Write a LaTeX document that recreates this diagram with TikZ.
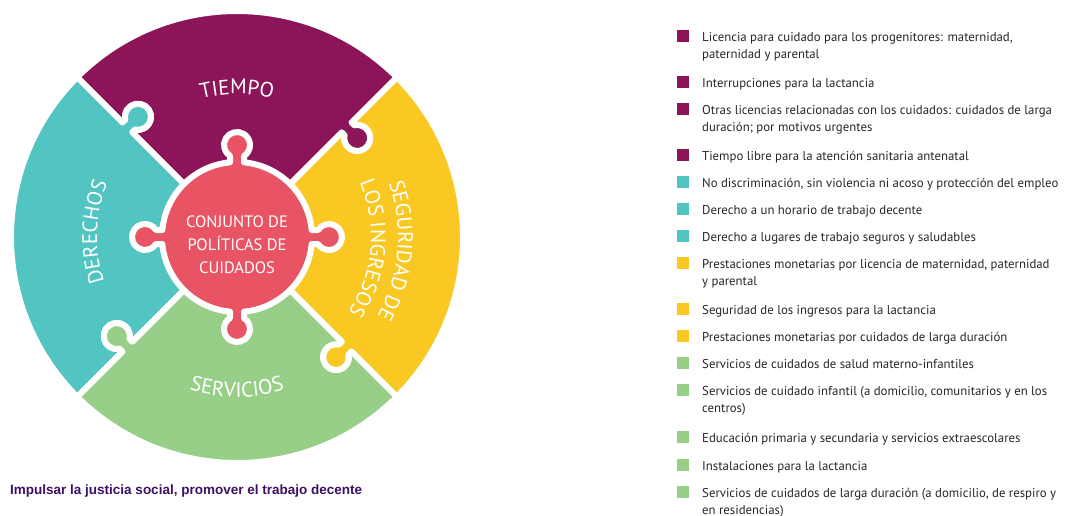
\documentclass[tikz,border=0pt]{standalone}
\usepackage{fontspec}
\setmainfont{PT Sans}
\newfontfamily\footfont{Liberation Sans}
\usetikzlibrary{calc,decorations.text}
\definecolor{cpurple}{HTML}{8B1558}
\definecolor{cteal}{HTML}{52C4C2}
\definecolor{cyellow}{HTML}{F9C823}
\definecolor{cgreen}{HTML}{97CE88}
\definecolor{cpink}{HTML}{E95464}
\definecolor{cfoot}{HTML}{3C1064}
\newcommand\lineout[1]{-- ($(C)+({#1}:{\uk-\hk})$) -- ($(C)+({#1}:{\uk-\hk})+({#1-90}:{\ck-\sk})$) arc[start angle={#1+90+\bk}, end angle={#1+450-\bk}, radius=\rk] -- ($(C)+({#1}:{\uk+\hk})$) -- ($(C)+({#1}:\Ro)$)}
\newcommand\linein[1]{-- ($(C)+({#1}:{\uk+\hk})$) -- ($(C)+({#1}:{\uk+\hk})+({#1-90}:{\ck-\sk})$) arc[start angle={#1+90-\bk}, end angle={#1-270+\bk}, radius=\rk] -- ($(C)+({#1}:{\uk-\hk})$) -- ($(C)+({#1}:\rin)$)}
\newcommand\notch[1]{-- ($(C)+({#1}:{\dk-\sk})+({#1+90}:\hk)$) arc[start angle={#1+180-\bk}, end angle={#1-180+\bk}, radius=\rk] -- ($(C)+({#1-\dl}:\rin)$)}
\newcommand\piece[3]{\filldraw[piece, fill=#3] ($(C)+({#1}:\rin)$) \lineout{#1} arc[start angle={#1}, end angle={#2}, radius=\Ro] \linein{#2} arc[start angle={#2}, end angle={(#1+#2)/2+\dl}, radius=\rin] \notch{(#1+#2)/2} arc[start angle={(#1+#2)/2-\dl}, end angle={#1}, radius=\rin] -- cycle;}
\begin{document}
\begin{tikzpicture}[x=1pt,y=1pt,
  piece/.style={draw=white, line width=6pt, line join=round},
  lab/.style={decorate, decoration={text along path, text align=center, text color=white}},
  legtext/.style={anchor=base west, inner sep=0pt, align=left, text=black!85, font=\fontsize{12.8}{17}\selectfont},
  sq/.style={minimum size=12pt, inner sep=0pt}]
\useasboundingbox (0,0) rectangle (1067,-515);
\coordinate (C) at (237,-237);
\def\Ro{226}\def\rin{75}
\def\uk{155}\def\ck{15}\def\rk{13}\def\hk{7}
\pgfmathsetmacro\sk{sqrt(\rk*\rk-\hk*\hk)}
\pgfmathsetmacro\bk{atan(\hk/\sk)}
\def\dk{92}
\pgfmathsetmacro\dl{asin(\hk/\rin)}
% centre piece
\fill[cpink] (C) circle[radius=\rin];
\foreach \a in {0,90,180,270}{
  \fill[cpink] ($(C)+({\a}:\dk)$) circle[radius=\rk];
  \fill[cpink] ($(C)+({\a}:{\rin-6})+({\a+90}:\hk)$) -- ($(C)+({\a}:\dk)+({\a+90}:\hk)$) -- ($(C)+({\a}:\dk)+({\a-90}:\hk)$) -- ($(C)+({\a}:{\rin-6})+({\a-90}:\hk)$) -- cycle;
}
% outer pieces
\piece{-45}{45}{cyellow}
\piece{45}{135}{cpurple}
\piece{135}{225}{cteal}
\piece{225}{315}{cgreen}
% labels
\path[lab, decoration={text={|\fontsize{21}{21}\selectfont|TIEMPO}}] ($(C)+(125:143)$) arc[start angle=125, end angle=55, radius=143];
\path[lab, decoration={text={|\fontsize{21}{21}\selectfont|DERECHOS}}] ($(C)+(225:140)$) arc[start angle=225, end angle=131, radius=140];
\path[lab, decoration={text={|\fontsize{21}{21}\selectfont|SERVICIOS}}] ($(C)+(235:160)$) arc[start angle=235, end angle=305, radius=160];
\path[lab, decoration={text={|\fontsize{21}{21}\selectfont|SEGURIDAD DE}}] ($(C)+(42:161)$) arc[start angle=42, end angle=-52, radius=161];
\path[lab, decoration={text={|\fontsize{21}{21}\selectfont|LOS INGRESOS}}] ($(C)+(45:134)$) arc[start angle=45, end angle=-55, radius=134];
\node[text=white, align=center, font=\fontsize{16.5}{23}\selectfont, inner sep=0pt] (centre) at (237,-245) {CONJUNTO DE\\POLÍTICAS DE\\CUIDADOS};
% legend
\node[sq, fill=cpurple] (s1) at (683,-36) {};
\node[legtext] (t1) at (702,-58) {Licencia para cuidado para los progenitores: maternidad,\\paternidad y parental};
\node[sq, fill=cpurple] (s2) at (683,-82) {};
\node[legtext] (t2) at (702,-87) {Interrupciones para la lactancia};
\node[sq, fill=cpurple] (s3) at (683,-109) {};
\node[legtext] (t3) at (702,-131) {Otras licencias relacionadas con los cuidados: cuidados de larga\\duración; por motivos urgentes};
\node[sq, fill=cpurple] (s4) at (683,-155) {};
\node[legtext] (t4) at (702,-160) {Tiempo libre para la atención sanitaria antenatal};
\node[sq, fill=cteal] (s5) at (683,-182) {};
\node[legtext] (t5) at (702,-187) {No discriminación, sin violencia ni acoso y protección del empleo};
\node[sq, fill=cteal] (s6) at (683,-209) {};
\node[legtext] (t6) at (702,-214) {Derecho a un horario de trabajo decente};
\node[sq, fill=cteal] (s7) at (683,-236) {};
\node[legtext] (t7) at (702,-241) {Derecho a lugares de trabajo seguros y saludables};
\node[sq, fill=cyellow] (s8) at (683,-263) {};
\node[legtext] (t8) at (702,-285) {Prestaciones monetarias por licencia de maternidad, paternidad\\y parental};
\node[sq, fill=cyellow] (s9) at (683,-309) {};
\node[legtext] (t9) at (702,-314) {Seguridad de los ingresos para la lactancia};
\node[sq, fill=cyellow] (s10) at (683,-336) {};
\node[legtext] (t10) at (702,-341) {Prestaciones monetarias por cuidados de larga duración};
\node[sq, fill=cgreen] (s11) at (683,-363) {};
\node[legtext] (t11) at (702,-368) {Servicios de cuidados de salud materno-infantiles};
\node[sq, fill=cgreen] (s12) at (683,-390) {};
\node[legtext] (t12) at (702,-412) {Servicios de cuidado infantil (a domicilio, comunitarios y en los\\centros)};
\node[sq, fill=cgreen] (s13) at (683,-437) {};
\node[legtext] (t13) at (702,-442) {Educación primaria y secundaria y servicios extraescolares};
\node[sq, fill=cgreen] (s14) at (683,-465) {};
\node[legtext] (t14) at (702,-470) {Instalaciones para la lactancia};
\node[sq, fill=cgreen] (s15) at (683,-492) {};
\node[legtext] (t15) at (702,-514) {Servicios de cuidados de larga duración (a domicilio, de respiro y\\en residencias)};
% footer
\node[anchor=base west, inner sep=0pt, text=cfoot, font=\footfont\bfseries\fontsize{13.5}{13.5}\selectfont] (foot) at (10,-494) {Impulsar la justicia social, promover el trabajo decente};
\end{tikzpicture}
\end{document}
